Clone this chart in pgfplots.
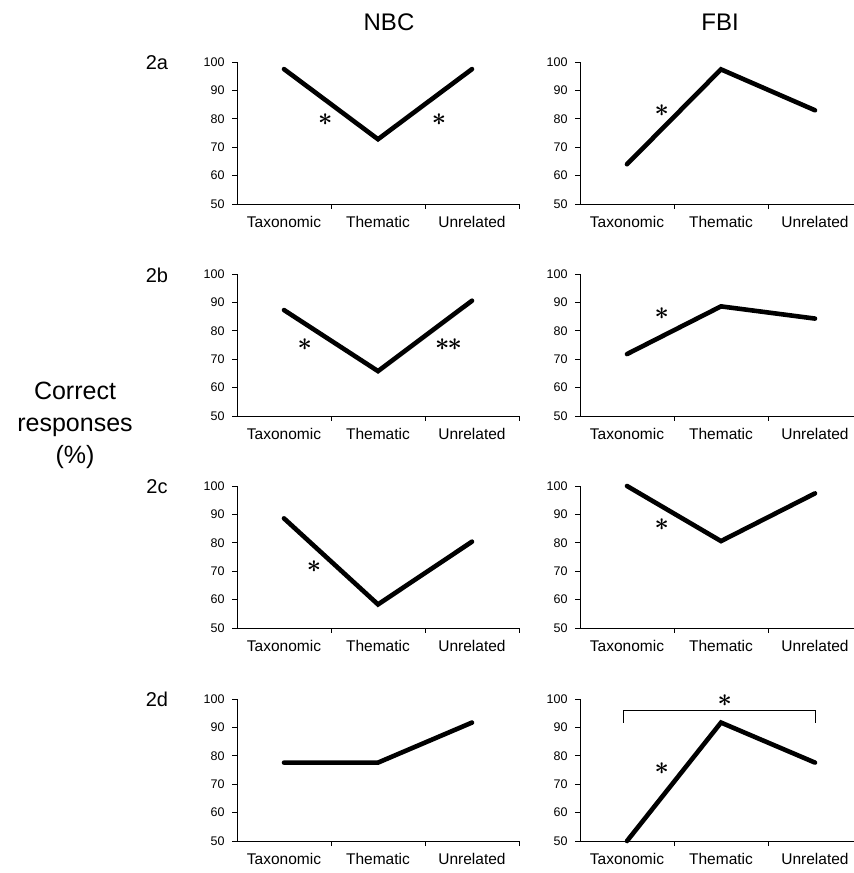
\documentclass[border=0pt]{standalone}
\usepackage{fontspec}
\setmainfont{Liberation Sans}
\usepackage{pgfplots}
\pgfplotsset{compat=1.18}
\pgfplotsset{
  panel/.style={
    scale only axis, height=142pt, anchor=south west, clip=false,
    ymin=50, ymax=100, ytick={50,60,...,100},
    xmin=-0.5,
    axis x line*=bottom, axis y line*=left,
    axis line style={-, line width=0.8pt},
    tick style={line width=0.8pt, black},
    tick align=outside, major tick length=5pt,
    /pgf/number format/assume math mode=true,
    yticklabel style={font=\fontsize{12.5}{14}\selectfont, xshift=-4pt},
    xticklabels={},
    extra x ticks={0,1,2},
    extra x tick labels={Taxonomic,Thematic,Unrelated},
    extra x tick style={major tick length=0pt, xticklabel style={font=\fontsize{15.5}{18}\selectfont, yshift=-9pt}},
  },
  leftp/.style={panel, width=282pt, xmax=2.5, xtick={0.5,1.5,2.5}},
  rightp/.style={panel, width=274pt, xmax=2.415, xtick={0.5,1.5}},
  dline/.style={black, line width=4.6pt, line join=miter, line cap=round, mark=none},
}
\newcommand{\sig}{\fontsize{27}{28}\selectfont$\boldsymbol{\ast}$}
\usepackage{amsmath}
\begin{document}
\begin{tikzpicture}
\useasboundingbox (0pt,0pt) rectangle (854pt,873pt);
\node[font=\fontsize{24}{28}\selectfont] at (389pt,851pt) {NBC};
\node[font=\fontsize{24}{28}\selectfont] at (720pt,851pt) {FBI};
\node[font=\fontsize{25}{32}\selectfont, align=center] at (75pt,448pt) {Correct\\responses\\(\%)};
\node[font=\fontsize{20}{24}\selectfont] at (157pt,810pt) {2a};
\node[font=\fontsize{20}{24}\selectfont] at (157pt,598pt) {2b};
\node[font=\fontsize{20}{24}\selectfont] at (157pt,386pt) {2c};
\node[font=\fontsize{20}{24}\selectfont] at (157pt,174pt) {2d};

% 2a NBC
\begin{axis}[leftp, at={(237pt,669pt)}]
\addplot[dline] coordinates {(0,97.5) (1,72.8) (2,97.5)};
\node at (axis cs:0.44,79.6) {\sig};
\node at (axis cs:1.65,79.6) {\sig};
\end{axis}
% 2a FBI
\begin{axis}[rightp, at={(580pt,669pt)}]
\addplot[dline] coordinates {(0,64) (1,97.4) (2,83)};
\node at (axis cs:0.37,83) {\sig};
\end{axis}
% 2b NBC
\begin{axis}[leftp, at={(237pt,457pt)}]
\addplot[dline] coordinates {(0,87.3) (1,65.8) (2,90.6)};
\node at (axis cs:0.22,75) {\sig};
\node at (axis cs:1.75,75) {\sig\hspace{-2pt}\sig};
\end{axis}
% 2b FBI
\begin{axis}[rightp, at={(580pt,457pt)}]
\addplot[dline] coordinates {(0,71.8) (1,88.6) (2,84.3)};
\node at (axis cs:0.37,86) {\sig};
\end{axis}
% 2c NBC
\begin{axis}[leftp, at={(237pt,245pt)}]
\addplot[dline] coordinates {(0,88.6) (1,58.3) (2,80.4)};
\node at (axis cs:0.32,71.5) {\sig};
\end{axis}
% 2c FBI
\begin{axis}[rightp, at={(580pt,245pt)}]
\addplot[dline] coordinates {(0,100) (1,80.6) (2,97.4)};
\node at (axis cs:0.37,86.3) {\sig};
\end{axis}
% 2d NBC
\begin{axis}[leftp, at={(237pt,32pt)}]
\addplot[dline] coordinates {(0,77.6) (1,77.6) (2,91.7)};
\end{axis}
% 2d FBI
\begin{axis}[rightp, at={(580pt,32pt)}]
\addplot[dline] coordinates {(0,50) (1,91.7) (2,77.6)};
\node at (axis cs:0.37,75.4) {\sig};
\draw[line width=0.9pt] (axis cs:-0.04,91.6) -- (axis cs:-0.04,96.1) -- (axis cs:2.01,96.1) -- (axis cs:2.01,91.6);
\node at (axis cs:1.04,99.3) {\sig};
\end{axis}
\end{tikzpicture}
\end{document}
